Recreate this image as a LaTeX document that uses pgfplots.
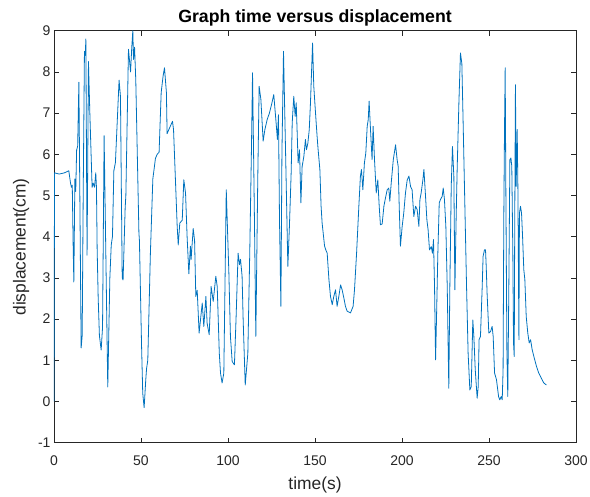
\documentclass[border=0pt]{standalone}
\usepackage{pgfplots}
\pgfplotsset{compat=1.18}
\usepackage{fontspec}
\setmainfont{Liberation Sans}
\definecolor{mline}{RGB}{0,114,189}
\definecolor{axgray}{RGB}{38,38,38}
\begin{document}
\begin{tikzpicture}
\useasboundingbox (-54pt,-54.3pt) rectangle (536pt,442.7pt);
\begin{axis}[
  at={(0,0)}, anchor=south west,
  scale only axis, width=522pt, height=412pt,
  xmin=0, xmax=300, ymin=-1, ymax=9,
  xtick={0,50,...,300}, ytick={-1,0,...,9},
  tick align=inside, major tick length=5pt,
  axis line style={axgray, line width=0.6pt},
  tick style={axgray, line width=0.6pt},
  tick label style={font=\fontsize{14}{16}\selectfont, text=axgray},
  xticklabel style={yshift=-9pt},
  /pgf/number format/assume math mode=true,
  title={\bfseries Graph time versus displacement},
  title style={font=\fontsize{17.7}{20}\selectfont, at={(axis description cs:0.5,1)}, anchor=center, yshift=7pt},
  xlabel={time(s)}, ylabel={displacement(cm)},
  every axis x label/.style={at={(axis description cs:0.5,0)}, anchor=center, yshift=-42pt, font=\fontsize{17.4}{20}\selectfont, text=axgray},
  every axis y label/.style={at={(axis description cs:-0.063,0.475)}, anchor=center, rotate=90, font=\fontsize{17.4}{20}\selectfont, text=axgray},
]
\addplot[mline, line width=0.8pt, line join=round] coordinates {
(0,0) (0.3,5.55) (3,5.52) (6,5.55) (8.5,5.6) (9.5,5.3) (10,5.2) (10.5,5.25) (11,3.8) (11.4,2.9)
(12,5.4) (12.5,5.1) (13,6.1) (13.6,6.2) (14.3,7.75) (15.6,1.3) (16.2,1.6) (16.8,5.1) (17.5,8.5) (18,8.4)
(18.3,8.8) (19,3.55) (19.8,8.25) (20.6,7.0) (21.9,5.2) (22.5,5.3) (23.3,5.2) (24,5.55) (24.4,5.2) (24.8,3.7)
(25.4,2.5) (26.1,1.6) (27.1,1.25) (27.9,1.8) (28.8,6.45) (30.9,0.35) (32.1,3.0) (32.9,3.8) (33.6,4.0) (34.4,5.6)
(35.3,5.8) (37.4,7.8) (38.2,7.4) (39.2,3.0) (39.7,2.95) (40.9,4.7) (41.3,5.0) (42.8,8.55) (44,8.0) (44.7,8.6)
(45.3,9.0) (45.7,8.3) (46.3,8.6) (47,7.8) (48.8,4.1) (49.1,3.9) (50.3,1.4) (51,0.2) (51.8,-0.15) (52.7,0.5)
(53.2,0.8) (53.9,1.0) (55.4,3.6) (56.8,5.4) (58.3,5.9) (59.3,6.0) (60.4,6.05) (61.6,7.5) (62.7,7.9) (63.5,8.1)
(64.6,7.5) (65,6.5) (66,6.6) (68.1,6.8) (68.7,6.6) (70.8,4.25) (71.4,3.8) (72.3,4.33) (73.7,4.4) (74.6,5.38)
(75.6,5.06) (76.5,4.0) (77.5,3.1) (78.4,3.77) (78.8,3.45) (80,4.2) (80.8,3.9) (81.5,2.55) (82.3,2.7) (83.4,1.66)
(85.2,2.39) (86.1,1.82) (87.3,2.55) (88,1.9) (89.2,1.62) (90.3,2.79) (91.5,2.43) (93,3.04) (93.8,2.79) (95,1.17)
(95.7,0.69) (96.6,0.45) (97.6,0.69) (99,5.14) (100.5,3.12) (101.4,1.58) (102.4,0.97) (103.7,0.89) (104.7,2.1) (105.8,3.6)
(106.6,3.32) (107.2,3.45) (108.1,3.04) (108.7,2.0) (109.9,0.4) (111.4,1.17) (112.5,3.6) (113.5,6.19) (114.1,7.98) (115.2,4.41)
(116,1.58) (117.1,5.38) (117.9,7.65) (118.9,7.33) (120.2,6.32) (121.2,6.6) (122.5,6.84) (123.8,7.0) (125,7.2) (126.3,7.45)
(127.5,6.84) (128.4,6.36) (129,6.96) (129.6,4.41) (130.4,2.31) (131,6.03) (131.9,8.5) (133.1,6.03) (134.4,3.28) (135.3,4.25)
(136.3,5.55) (136.9,6.76) (137.8,7.41) (138.6,6.92) (139.2,7.25) (139.7,6.6) (140.3,5.79) (141.1,6.11) (141.9,4.82) (142.6,5.7)
(143.6,5.95) (144.5,6.36) (145.1,6.11) (145.9,6.27) (146.7,6.6) (147.4,7.25) (148,7.98) (148.6,8.7) (149.3,7.65) (150.3,7.0)
(151.2,6.44) (151.8,6.11) (152.8,5.63) (153.5,4.74) (154.1,4.33) (154.7,4.09) (155.5,3.77) (156.2,3.68) (157,3.6) (158,2.96)
(158.9,2.55) (159.9,2.35) (160.8,2.55) (161.8,2.71) (162.7,2.31) (163.7,2.55) (164.7,2.83) (165.6,2.71) (166.6,2.51) (167.5,2.31)
(168.5,2.19) (170.4,2.15) (171.9,2.31) (172.7,2.71) (173.9,3.6) (175.2,4.74) (176.1,5.47) (176.7,5.63) (177.5,5.14) (178.4,5.79)
(179.2,6.03) (180,6.68) (180.6,6.84) (181.1,7.29) (181.9,6.6) (182.8,5.87) (183.4,6.68) (184.2,5.87) (185.2,5.06) (186.1,5.38)
(186.9,4.74) (187.6,4.29) (188.6,4.31) (189.6,4.74) (190.5,4.94) (191.5,5.14) (192.4,5.18) (193,4.86) (193.8,5.3) (195,5.87)
(196.3,6.23) (197.2,5.87) (197.8,5.71) (198.4,4.74) (199.1,3.77) (200.1,4.25) (201,4.57) (202,5.06) (203,5.38) (204,5.47)
(204.9,5.22) (205.8,5.14) (206.8,4.49) (207.8,4.74) (208.7,4.66) (209.7,4.25) (210.3,4.9) (211,5.06) (212,5.38) (212.6,5.63)
(213.5,5.0) (214.3,4.41) (215,4.17) (215.8,3.68) (216.8,3.76) (217.5,3.6) (218.1,3.93) (218.7,2.79) (219.3,1.01) (219.9,2.15)
(220.6,3.6) (221.4,4.82) (222.1,4.9) (223.1,4.98) (223.7,5.18) (224.4,4.9) (225.2,4.25) (226,2.79) (226.9,0.32) (227.5,2.79)
(228.3,5.22) (229,6.19) (229.8,5.47) (230.4,2.71) (231.1,4.41) (231.7,5.63) (232.7,7.25) (233.6,8.46) (234.4,8.2) (235.1,6.84)
(235.9,5.22) (237.1,2.79) (238,1.17) (239,0.28) (239.8,0.36) (240.7,1.98) (241.3,1.58) (242.1,0.77) (243.2,0.08) (243.8,0.36)
(244.3,1.5) (245.1,1.58) (246.1,2.79) (246.6,3.52) (247.4,3.68) (248,3.68) (248.4,3.28) (248.9,2.63) (249.9,1.66) (250.9,1.7)
(251.8,1.82) (252.4,1.58) (253.2,0.69) (254.3,0.53) (255.5,0.12) (256.2,0.04) (257,0.12) (257.6,0.04) (258.1,0.77) (258.5,4.41)
(258.9,6.52) (259.3,8.1) (259.7,5.06) (260.3,1.17) (260.8,0.12) (261.4,2.79) (262,5.87) (262.6,5.91) (263.1,5.71) (263.7,3.6)
(264.1,1.42) (264.5,1.09) (264.8,4.41) (265.2,7.69) (265.6,5.22) (266.2,6.6) (266.6,5.22) (267.2,1.5) (267.5,4.57) (268.1,4.74)
(268.7,4.57) (269.3,4.0) (270,3.2) (270.6,2.96) (271.4,2.06) (272.3,1.66) (273.1,1.42) (273.9,1.5) (274.8,1.26) (275.8,1.09)
(277.3,0.85) (278.6,0.69) (280,0.57) (281.5,0.45) (283,0.4)
};
\end{axis}
\end{tikzpicture}
\end{document}
